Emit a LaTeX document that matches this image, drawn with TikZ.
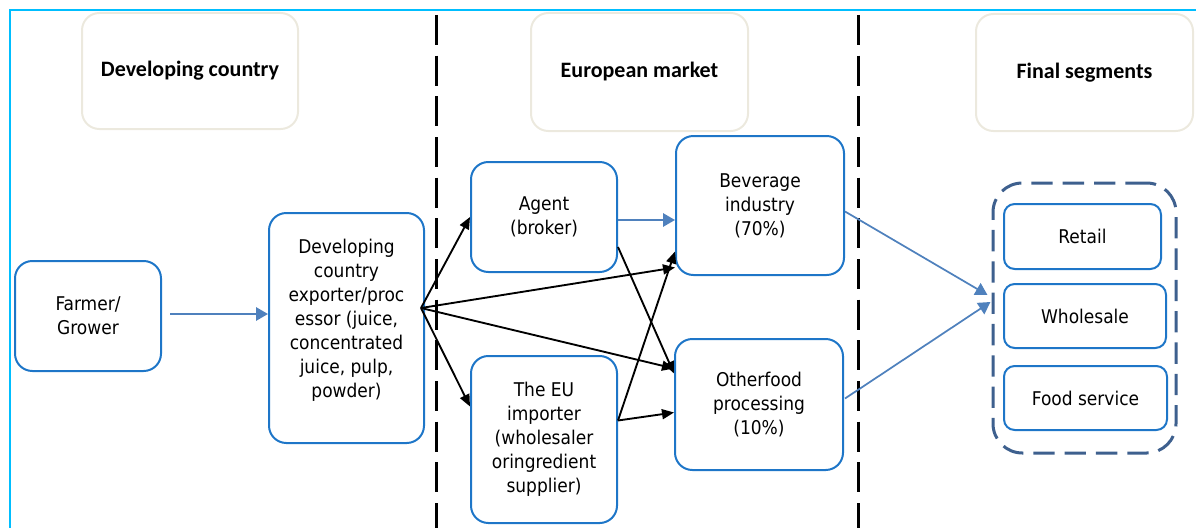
\documentclass[tikz,border=0pt]{standalone}
\usepackage{fontspec}
\setmainfont{DejaVu Sans Condensed}
\newfontfamily\headfont{Carlito}
\usetikzlibrary{arrows.meta,calc}

\definecolor{nodeblue}{RGB}{30,118,200}
\definecolor{flowblue}{RGB}{79,129,189}
\definecolor{groupblue}{RGB}{62,96,142}
\definecolor{headline}{RGB}{236,233,222}
\definecolor{framecyan}{RGB}{0,190,255}

\begin{document}
\begin{tikzpicture}[x=0.75pt,y=-0.75pt,
  box/.style={draw=nodeblue, line width=1.5pt, rounded corners=13pt, align=center,
    inner sep=0pt, font=\fontsize{14.2}{18}\selectfont},
  smallbox/.style={box, rounded corners=8pt},
  header/.style={draw=headline, line width=1.5pt, rounded corners=13pt, align=center,
    inner sep=0pt, font=\headfont\bfseries\fontsize{16.5}{20}\selectfont},
  group/.style={draw=groupblue, line width=2.25pt, rounded corners=22pt,
    dash pattern=on 16pt off 7.5pt},
  divider/.style={line width=2.25pt, dash pattern=on 22.5pt off 8pt},
  flow/.style={draw=flowblue, line width=1.5pt, -{Triangle[length=9pt,width=10pt]}},
  trade/.style={draw=black, line width=1.4pt, -{Triangle[length=9pt,width=7.5pt]}}
]
\useasboundingbox (0,0) rectangle (1196,528);

% frame and column dividers
\draw[framecyan, line width=1.5pt] (10,528) -- (10,10) -- (1196,10);
\draw[divider] (436,15) -- (436,528);
\draw[divider] (858,15) -- (858,528);

% column headings
\node[header, minimum width=162pt, minimum height=87pt] (hdev) at (190,71) {Developing country};
\node[header, minimum width=162.75pt, minimum height=88.5pt] (heur) at (639.5,72) {European market};
\node[header, minimum width=162.75pt, minimum height=87.75pt] (hfin) at (1084.5,72.5) {Final segments};

% chain actors
\node[box, minimum width=109.5pt, minimum height=82.5pt] (farmer) at (88,316) {Farmer/\\Grower};
\node[box, minimum width=116.25pt, minimum height=172.5pt] (exp) at (346.5,328)
  {Developing\\country\\exporter/proc\\essor (juice,\\concentrated\\juice, pulp,\\powder)\rule[-14pt]{0pt}{14pt}};
\node[box, minimum width=109.5pt, minimum height=82.5pt] (agent) at (544,217) {Agent\\(broker)};
\node[box, minimum width=109.5pt, minimum height=125.25pt] (eu) at (544,439.5)
  {The EU\\importer\\(wholesaler\\oringredient\\supplier)};
\node[box, minimum width=126pt, minimum height=104.25pt] (bev) at (760,205.5) {Beverage\\industry\\(70\%)};
\node[box, minimum width=126pt, minimum height=98.25pt] (oth) at (759,404.5) {Otherfood\\processing\\(10\%)};

% final segments
\node[group, minimum width=137.25pt, minimum height=202.5pt] (grp) at (1084.5,318) {};
\node[smallbox, minimum width=117.75pt, minimum height=48.75pt] (retail) at (1082.5,236.5) {Retail};
\node[smallbox, minimum width=121.5pt, minimum height=48pt] (whole) at (1085,316) {Wholesale};
\node[smallbox, minimum width=122.25pt, minimum height=48pt] (food) at (1085.5,398) {Food service};

% connector end points
\coordinate (exOut) at ($(exp.east)+(-4,-20)$);
\coordinate (euOut) at ($(eu.east)+(0,-19)$);
\coordinate (agOut) at ($(agent.east)+(0,30)$);

% flows
\draw[flow] ($(farmer.east)+(8,-2)$) -- ($(exp.west)+(0,-14)$);
\draw[flow] ($(agent.east)+(0,3)$) -- ($(bev.west)+(0,14.5)$);
\draw[flow, line width=1.3pt] ($(bev.east)+(0,6)$) -- ($(grp.west)+(-4,-23)$);
\draw[flow, line width=1.3pt] ($(oth.east)+(1,-6)$) -- ($(grp.west)+(-1,-16)$);

\draw[trade] (exOut) -- (agent.west);
\draw[trade] (exOut) -- ($(eu.west)+(0,-33)$);
\draw[trade] (exOut) -- ($(bev.west)+(0,62)$);
\draw[trade] (exOut) -- ($(oth.west)+(0,-36)$);
\draw[trade] (agOut) -- ($(oth.west)+(0,-31)$);
\draw[trade] (euOut) -- ($(bev.west)+(0,46)$);
\draw[trade] (euOut) -- ($(oth.west)+(0,8)$);
\end{tikzpicture}
\end{document}
